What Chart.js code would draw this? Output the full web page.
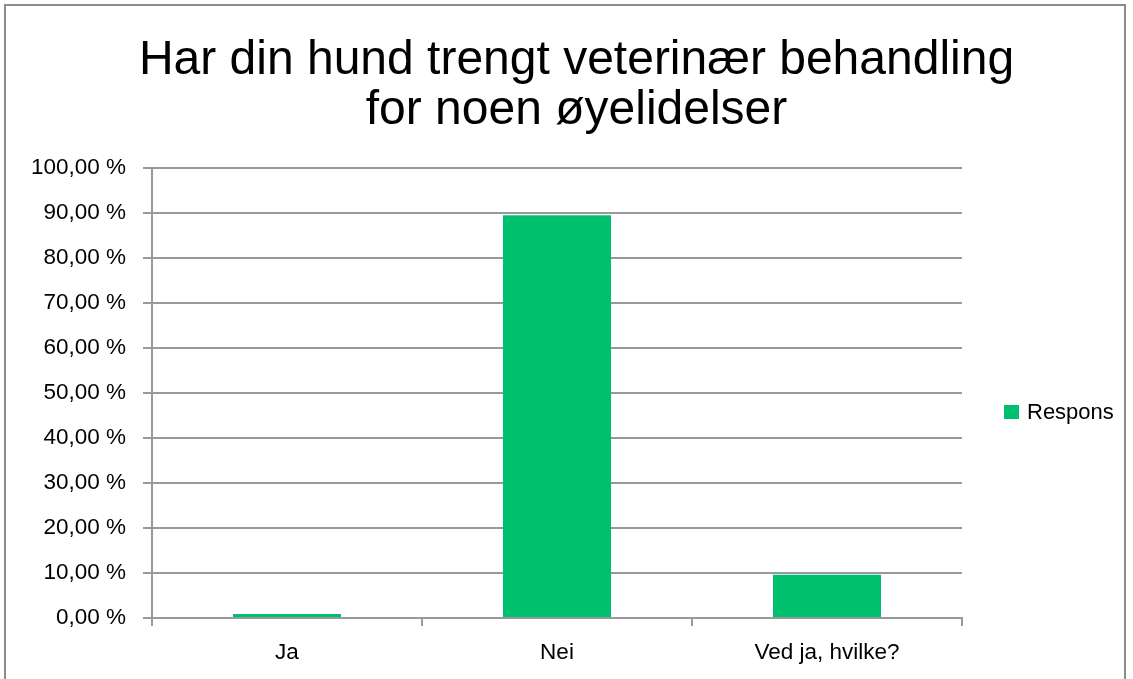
<!DOCTYPE html>
<html>
<head>
<meta charset="utf-8">
<script src="https://cdn.jsdelivr.net/npm/chart.js@4"></script>
<style>
  html, body { margin: 0; padding: 0; background: #ffffff; overflow: hidden; }
  #wrap { position: relative; width: 1133px; height: 679px; }
  #frame {
    position: absolute; left: 4px; top: 4px;
    width: 1122px; height: 700px;
    border: 2px solid #8c8c8c; box-sizing: border-box;
  }
  #chart { position: absolute; left: 0; top: 0; }
  #legend {
    position: absolute; left: 1004px; top: 412px; transform: translateY(-50%);
    font-family: "Liberation Sans", Arial, sans-serif; font-size: 22px; color: #000;
  }
  .legend-item { display: flex; align-items: center; }
  .legend-box { width: 15px; height: 14px; margin-right: 8px; }
</style>
</head>
<body>
<div id="wrap">
  <div id="frame"></div>
  <canvas id="chart" width="1133" height="679"></canvas>
  <div id="legend"></div>
</div>
<script>
// Data
const categories = ["Ja", "Nei", "Ved ja, hvilke?"];
const seriesName = "Respons";
const responsValues = [0.9, 89.5, 9.6]; // percent
const titleLines = ["Har din hund trengt veterinær behandling", "for noen øyelidelser"];

const barColor = "#00C070";
const gridColor = "#999999";
const tickFont = { family: "'Liberation Sans', Arial, sans-serif", size: 22.5 };

const ctx = document.getElementById("chart").getContext("2d");

const chart = new Chart(ctx, {
  type: "bar",
  data: {
    labels: categories,
    datasets: [
      {
        label: seriesName,
        data: responsValues,
        backgroundColor: barColor,
        borderWidth: 0,
        barPercentage: 1,
        categoryPercentage: 0.4,
      },
    ],
  },
  options: {
    responsive: false,
    animation: false,
    layout: {
      padding: { left: 20, right: 0, top: 0, bottom: 0 },
    },
    scales: {
      x: {
        offset: true,
        grid: {
          offset: true,
          drawOnChartArea: false, // only the small tick marks below the axis
          drawTicks: true,
          tickLength: 8,
          color: gridColor,
          lineWidth: 2,
        },
        border: { display: true, color: gridColor, width: 2 },
        ticks: { color: "#000", font: tickFont, padding: 13, maxRotation: 0 },
        afterFit: (scale) => { scale.height = 61; },
      },
      y: {
        min: 0,
        max: 100,
        grid: {
          color: gridColor,
          lineWidth: 2,
          drawTicks: true,
          tickLength: 9,
        },
        border: { display: true, color: gridColor, width: 2 },
        ticks: {
          stepSize: 10,
          color: "#000",
          font: tickFont,
          padding: 17,
          callback: (v) => v.toFixed(2).replace(".", ",") + " %",
        },
        afterFit: (scale) => { scale.width = 132; },
      },
      // empty axis on the right, keeps room for the legend
      yRight: {
        position: "right",
        display: true,
        grid: { display: false },
        border: { display: false },
        ticks: { display: false },
        afterFit: (scale) => { scale.width = 171; },
      },
    },
    plugins: {
      legend: { display: false }, // drawn as html next to the chart
      tooltip: { enabled: false },
      title: {
        display: true,
        text: titleLines,
        color: "#000",
        font: { family: "'Liberation Sans', Arial, sans-serif", size: 48, weight: "normal", lineHeight: 50 / 48 },
        padding: { top: 36, bottom: 32 },
      },
    },
  },
});

// Legend built from the chart's own dataset
const legendEl = document.getElementById("legend");
chart.data.datasets.forEach((ds) => {
  const item = document.createElement("div");
  item.className = "legend-item";
  const box = document.createElement("span");
  box.className = "legend-box";
  box.style.background = ds.backgroundColor;
  const text = document.createElement("span");
  text.textContent = ds.label;
  item.appendChild(box);
  item.appendChild(text);
  legendEl.appendChild(item);
});
</script>
</body>
</html>
